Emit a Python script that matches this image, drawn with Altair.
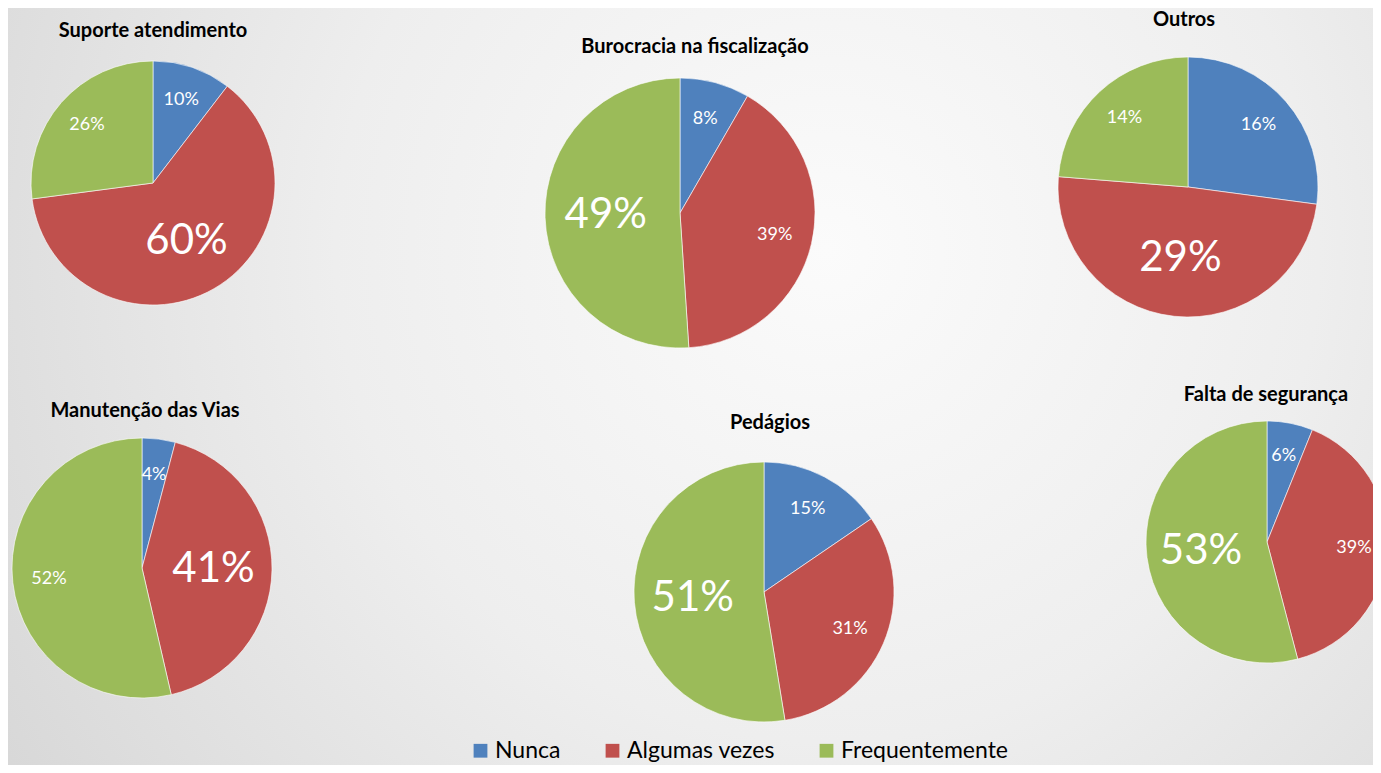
import altair as alt
import pandas as pd
import math

# ---- data ----
categorias = ["Nunca", "Algumas vezes", "Frequentemente"]
cores = ["#4F81BD", "#C0504D", "#9BBB59"]
temas = ["Suporte atendimento", "Burocracia na fiscalização", "Outros",
         "Manutenção das Vias", "Pedágios", "Falta de segurança"]
nunca = [10, 8, 16, 4, 15, 6]
algumas = [60, 39, 29, 41, 31, 39]
frequente = [26, 49, 14, 52, 51, 53]
destaque = ["Algumas vezes", "Frequentemente", "Algumas vezes",
            "Algumas vezes", "Frequentemente", "Frequentemente"]

# ---- layout (chart pixel coords): center x, center y, radius, title x, title y ----
layout = [
    (145, 175, 122, 145, 23),
    (672, 205, 135, 687, 39),
    (1180, 179, 130, 1176, 12),
    (134, 560, 130, 137, 403),
    (756, 584, 130, 762, 415),
    (1259, 534, 121, 1258, 387),
]

FONT = "Lato"
W, H = 1365, 757

rows = []
for i, tema in enumerate(temas):
    vals = [nunca[i], algumas[i], frequente[i]]
    for j, cat in enumerate(categorias):
        rows.append({"tema": tema, "categoria": cat, "valor": vals[j],
                     "ordem": j, "destaque": cat == destaque[i]})
df = pd.DataFrame(rows)

bg = alt.Chart(alt.Data(values=[{"a": 1}])).mark_rect(
    fill={
        "gradient": "radial",
        "x1": 0.6, "y1": 0.4, "r1": 0,
        "x2": 0.6, "y2": 0.4, "r2": 0.8,
        "stops": [
            {"offset": 0, "color": "#fbfbfb"},
            {"offset": 0.45, "color": "#eeeeee"},
            {"offset": 1, "color": "#d2d2d2"},
        ],
    }
).encode(x=alt.value(0), x2=alt.value(W), y=alt.value(0), y2=alt.value(H))

color = alt.Color(
    "categoria:N",
    scale=alt.Scale(domain=categorias, range=cores),
    sort=categorias,
    legend=alt.Legend(
        orient="none", legendX=461, legendY=731, direction="horizontal",
        title=None, symbolType="square", symbolSize=190, symbolStrokeWidth=0,
        labelFontSize=23, labelFont=FONT, labelColor="#000000", labelLimit=0,
        columnPadding=40, labelOffset=3, padding=0,
    ),
)

theta_scale = alt.Scale(domain=[0, 1], range=[0, 2 * math.pi])

layers = [bg]
for i, tema in enumerate(temas):
    cx, cy, r, tx, ty = layout[i]
    base = alt.Chart(df).transform_filter(alt.datum.tema == tema)
    arc = base.mark_arc(radius=r, stroke="#ffffff", strokeWidth=0.6).encode(
        theta=alt.Theta("valor:Q", stack="normalize", scale=theta_scale),
        order=alt.Order("ordem:Q"),
        color=color,
        x=alt.value(cx), y=alt.value(cy),
    )
    txt = base.transform_joinaggregate(
        total="sum(valor)"
    ).transform_window(
        acum="sum(valor)", sort=[alt.SortField("ordem")], frame=[None, 0]
    ).transform_calculate(
        meio="(datum.acum - datum.valor / 2) / datum.total",
        rad=f"datum.destaque ? {0.55 * r} : {0.72 * r}",
        fs="datum.destaque ? 42 : 18",
        rotulo="datum.valor + '%'",
    ).mark_text(font=FONT, color="#ffffff", baseline="middle", align="center").encode(
        theta=alt.Theta("meio:Q", stack=None, scale=theta_scale),
        radius=alt.Radius("rad:Q", scale=None),
        size=alt.Size("fs:Q", scale=None, legend=None),
        text=alt.Text("rotulo:N"),
        x=alt.value(cx), y=alt.value(cy),
    )
    titulo = alt.Chart(pd.DataFrame({"tema": [tema]})).mark_text(
        font=FONT, fontWeight="bold", fontSize=20, color="#000000",
        baseline="middle", align="center",
    ).encode(text="tema:N", x=alt.value(tx), y=alt.value(ty))
    layers += [arc, txt, titulo]

chart = alt.layer(*layers).properties(
    width=W, height=H, autosize=alt.AutoSizeParams(type="none"), padding=0
).configure_view(stroke=None)

chart.save("out.html", embed_options={"renderer": "svg", "actions": False})
